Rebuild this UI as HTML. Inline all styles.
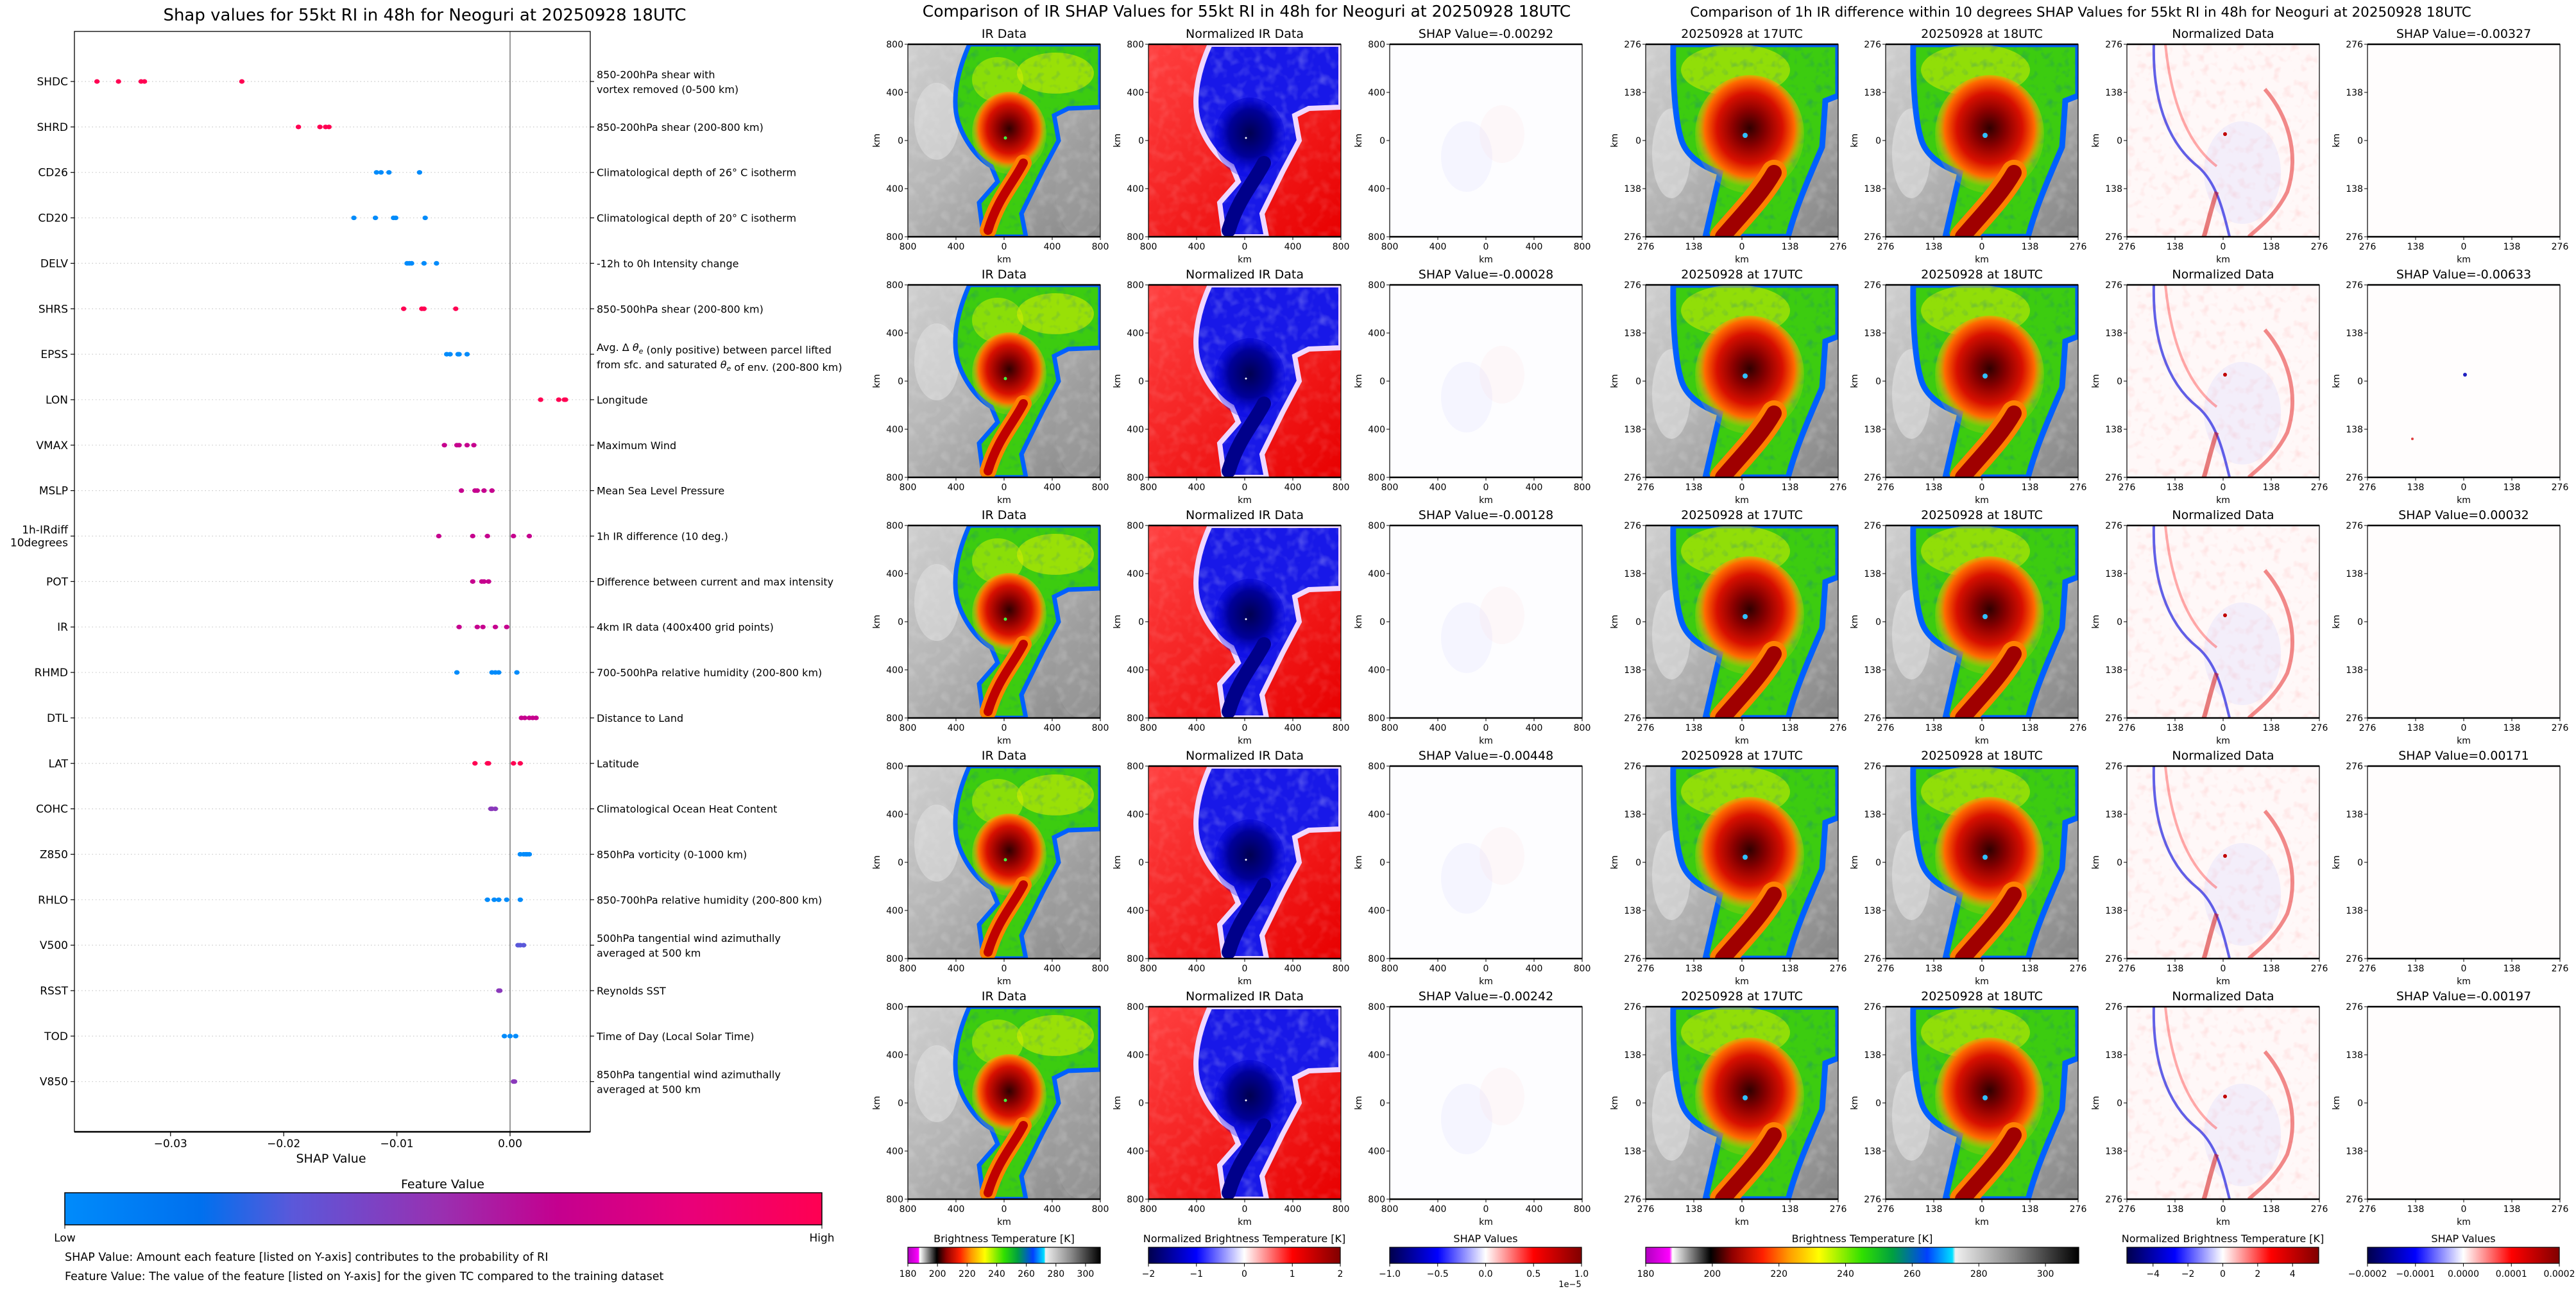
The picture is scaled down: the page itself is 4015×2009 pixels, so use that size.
<!DOCTYPE html>
<html><head><meta charset="utf-8">
<style>
html,body{margin:0;padding:0;background:#fff;}
svg{display:block;font-family:"DejaVu Sans","Liberation Sans",sans-serif;}
</style></head>
<body>
<svg id="root" xmlns="http://www.w3.org/2000/svg" width="4015" height="2009" viewBox="0 0 4015 2009">
<defs>
  <filter id="noise" x="0" y="0" width="100%" height="100%">
    <feTurbulence type="fractalNoise" baseFrequency="0.06" numOctaves="2" seed="3"/>
    <feColorMatrix type="matrix" values="0 0 0 0 1  0 0 0 0 1  0 0 0 0 1  0 0 0 1.2 -0.55"/>
  </filter>
  <filter id="noiseDark" x="0" y="0" width="100%" height="100%">
    <feTurbulence type="fractalNoise" baseFrequency="0.08" numOctaves="2" seed="7"/>
    <feColorMatrix type="matrix" values="0 0 0 0 0  0 0 0 0 0.1  0 0 0 0 0.6  0 0 0 1.4 -0.75"/>
  </filter>
  <filter id="noiseRed" x="0" y="0" width="100%" height="100%">
    <feTurbulence type="fractalNoise" baseFrequency="0.07" numOctaves="2" seed="11"/>
    <feColorMatrix type="matrix" values="0 0 0 0 1  0 0 0 0 0.2  0 0 0 0 0.2  0 0 0 1.5 -0.8"/>
  </filter>
  <linearGradient id="grayBg" x1="0" y1="0" x2="1" y2="1">
    <stop offset="0" stop-color="#cfcfcf"/><stop offset="0.45" stop-color="#b4b4b4"/><stop offset="1" stop-color="#858585"/>
  </linearGradient>
  <radialGradient id="coreIR" cx="0.5" cy="0.45" r="0.5">
    <stop offset="0" stop-color="#300000"/><stop offset="0.3" stop-color="#8a0000"/><stop offset="0.6" stop-color="#d81000"/>
    <stop offset="0.82" stop-color="#ff6a00"/><stop offset="1" stop-color="#ffd000" stop-opacity="0.2"/>
  </radialGradient>
  <linearGradient id="redBg" x1="0" y1="0" x2="1" y2="1">
    <stop offset="0" stop-color="#ff4040"/><stop offset="1" stop-color="#e80000"/>
  </linearGradient>
  <radialGradient id="coreNorm" cx="0.5" cy="0.45" r="0.5">
    <stop offset="0" stop-color="#000050"/><stop offset="0.6" stop-color="#00009a"/><stop offset="1" stop-color="#0000e0" stop-opacity="0.3"/>
  </radialGradient>
  <linearGradient id="cmShap" x1="0" x2="1">
    <stop offset="0" stop-color="#008bfb"/><stop offset="0.18" stop-color="#0070ee"/><stop offset="0.3" stop-color="#5a58da"/>
    <stop offset="0.5" stop-color="#9a2fb0"/><stop offset="0.65" stop-color="#c4008f"/><stop offset="0.82" stop-color="#e8007a"/><stop offset="1" stop-color="#ff0052"/>
  </linearGradient>
  <linearGradient id="cmIR" x1="0" x2="1">
    <stop offset="0" stop-color="#b000c0"/><stop offset="0.055" stop-color="#ff00ff"/><stop offset="0.062" stop-color="#ffffff"/>
    <stop offset="0.15" stop-color="#000000"/><stop offset="0.2" stop-color="#900000"/><stop offset="0.27" stop-color="#ff2000"/>
    <stop offset="0.33" stop-color="#ff9a00"/><stop offset="0.4" stop-color="#ffff00"/><stop offset="0.5" stop-color="#30e000"/>
    <stop offset="0.57" stop-color="#00a040"/><stop offset="0.65" stop-color="#0040ff"/><stop offset="0.708" stop-color="#00e0ff"/>
    <stop offset="0.715" stop-color="#f0f0f0"/><stop offset="0.85" stop-color="#888888"/><stop offset="1" stop-color="#000000"/>
  </linearGradient>
  <linearGradient id="cmSeis" x1="0" x2="1">
    <stop offset="0" stop-color="#00004c"/><stop offset="0.25" stop-color="#0000ff"/><stop offset="0.5" stop-color="#ffffff"/>
    <stop offset="0.75" stop-color="#ff0000"/><stop offset="1" stop-color="#800000"/>
  </linearGradient>
  <clipPath id="pclip"><rect x="0" y="0" width="300" height="300"/></clipPath>
  <clipPath id="cloud800"><path d="M96,0 C78,40 68,85 78,120 C88,150 108,178 130,190 L140,214 L111,247 L118,300 L184,300 L177,264 L210,197 L235,150 L228,111 L250,100 L300,98 L300,0 Z"/></clipPath>
  <clipPath id="cloud276"><path d="M43,0 C42,60 46,120 56,150 C66,180 100,195 116,200 L93,300 L222,300 C235,250 258,200 275,160 L280,88 L300,80 L300,0 Z"/></clipPath>

  <g id="ir800">
    <rect width="300" height="300" fill="url(#grayBg)"/>
    <ellipse cx="45" cy="120" rx="35" ry="60" fill="#e4e4e4" opacity="0.5"/>
    <ellipse cx="270" cy="230" rx="40" ry="70" fill="#a0a0a0" opacity="0.5"/>
    <rect width="300" height="300" filter="url(#noise)" opacity="0.35"/>
    <path d="M96,0 C78,40 68,85 78,120 C88,150 108,178 130,190 L140,214 L111,247 L118,300 L184,300 L177,264 L210,197 L235,150 L228,111 L250,100 L300,98 L300,0 Z" fill="#3ccc10" stroke="#0060ff" stroke-width="7"/>
    <g clip-path="url(#cloud800)">
      <ellipse cx="230" cy="45" rx="60" ry="32" fill="#e6f000" opacity="0.55"/>
      <ellipse cx="140" cy="55" rx="40" ry="35" fill="#d8f000" opacity="0.5"/>
      <rect width="300" height="300" filter="url(#noiseDark)" opacity="0.5"/>
    </g>
    <ellipse cx="158" cy="138" rx="58" ry="64" fill="url(#coreIR)"/>
    <path d="M180,185 C165,215 140,240 125,290" fill="none" stroke="#ff8000" stroke-width="26" stroke-linecap="round"/>
    <path d="M180,185 C165,215 140,240 125,290" fill="none" stroke="#c00000" stroke-width="14" stroke-linecap="round"/>
    <circle cx="152" cy="146" r="2.5" fill="#40ff40"/>
  </g>
  <g id="norm800">
    <rect width="300" height="300" fill="url(#redBg)"/>
    <rect width="300" height="300" filter="url(#noise)" opacity="0.25"/>
    <path d="M96,0 C78,40 68,85 78,120 C88,150 108,178 130,190 L140,214 L111,247 L118,300 L184,300 L177,264 L210,197 L235,150 L228,111 L250,100 L300,98 L300,0 Z" fill="#1818e8" stroke="#f0d8ff" stroke-width="8"/>
    <g clip-path="url(#cloud800)">
      <rect width="300" height="300" filter="url(#noise)" opacity="0.45"/>
    </g>
    <ellipse cx="158" cy="145" rx="55" ry="62" fill="url(#coreNorm)"/>
    <path d="M180,185 C165,215 140,240 125,290" fill="none" stroke="#00008a" stroke-width="22" stroke-linecap="round"/>
    <circle cx="152" cy="146" r="1.5" fill="#ffffff"/>
  </g>
  <g id="shap800">
    <rect width="300" height="300" fill="#fdfdff"/>
    <ellipse cx="120" cy="175" rx="40" ry="55" fill="#c8c8ff" opacity="0.15"/>
    <ellipse cx="175" cy="140" rx="35" ry="45" fill="#ffd0d0" opacity="0.12"/>
  </g>
  <g id="ir276">
    <rect width="300" height="300" fill="url(#grayBg)"/>
    <ellipse cx="40" cy="170" rx="30" ry="70" fill="#e8e8e8" opacity="0.5"/>
    <rect width="300" height="300" filter="url(#noise)" opacity="0.35"/>
    <path d="M43,0 C42,60 46,120 56,150 C66,180 100,195 116,200 L93,300 L222,300 C235,250 258,200 275,160 L280,88 L300,80 L300,0 Z" fill="#3ccc10" stroke="#0060ff" stroke-width="9"/>
    <g clip-path="url(#cloud276)">
      <ellipse cx="140" cy="40" rx="85" ry="40" fill="#e6f000" opacity="0.5"/>
      <rect width="300" height="300" filter="url(#noiseDark)" opacity="0.5"/>
    </g>
    <ellipse cx="162" cy="140" rx="85" ry="92" fill="url(#coreIR)"/>
    <path d="M200,200 C180,235 150,265 120,300" fill="none" stroke="#ff8000" stroke-width="40" stroke-linecap="round"/>
    <path d="M200,200 C180,235 150,265 120,300" fill="none" stroke="#a00000" stroke-width="24" stroke-linecap="round"/>
    <circle cx="155" cy="142" r="4" fill="#30c0ff"/>
  </g>
  <g id="normdiff">
    <rect width="300" height="300" fill="#fff8f8"/>
    <rect width="300" height="300" filter="url(#noiseRed)" opacity="0.35"/>
    <ellipse cx="180" cy="200" rx="60" ry="80" fill="#d0d0ff" opacity="0.25"/>
    <path d="M42,0 C40,80 60,150 110,190 C140,215 150,260 160,300" fill="none" stroke="#2020e0" stroke-width="4" opacity="0.7"/>
    <path d="M60,0 C70,100 100,160 140,190" fill="none" stroke="#ff3030" stroke-width="4" opacity="0.4"/>
    <path d="M215,70 C250,110 270,170 250,230 C230,270 200,290 190,300" fill="none" stroke="#e00000" stroke-width="6" opacity="0.45"/>
    <path d="M140,230 C130,260 125,285 120,300" fill="none" stroke="#d00000" stroke-width="7" opacity="0.5"/>
    <circle cx="153" cy="140" r="3" fill="#c00000"/>
  </g>
  <g id="shap276">
    <rect width="300" height="300" fill="#fffdfd"/>
  </g>
</defs>
<g id="content"></g>
</svg>
<script>
// ---------------- SHAP summary data ----------------
const features = ["SHDC","SHRD","CD26","CD20","DELV","SHRS","EPSS","LON","VMAX","MSLP","1h-IRdiff\n10degrees","POT","IR","RHMD","DTL","LAT","COHC","Z850","RHLO","V500","RSST","TOD","V850"];
const descriptions = [
 "850-200hPa shear with\nvortex removed (0-500 km)",
 "850-200hPa shear (200-800 km)",
 "Climatological depth of 26° C isotherm",
 "Climatological depth of 20° C isotherm",
 "-12h to 0h Intensity change",
 "850-500hPa shear (200-800 km)",
 "Avg. Δ θe (only positive) between parcel lifted\nfrom sfc. and saturated θe of env. (200-800 km)",
 "Longitude","Maximum Wind","Mean Sea Level Pressure","1h IR difference (10 deg.)",
 "Difference between current and max intensity","4km IR data (400x400 grid points)",
 "700-500hPa relative humidity (200-800 km)","Distance to Land","Latitude",
 "Climatological Ocean Heat Content","850hPa vorticity (0-1000 km)",
 "850-700hPa relative humidity (200-800 km)",
 "500hPa tangential wind azimuthally\naveraged at 500 km","Reynolds SST","Time of Day (Local Solar Time)",
 "850hPa tangential wind azimuthally\naveraged at 500 km"];
const shapValues = [
 [-0.0365,-0.0346,-0.0326,-0.0323,-0.0237],
 [-0.0187,-0.0168,-0.0163,-0.0160],
 [-0.0118,-0.0114,-0.0107,-0.0080],
 [-0.0138,-0.0119,-0.0103,-0.0101,-0.0075],
 [-0.0091,-0.0089,-0.0087,-0.0076,-0.0065],
 [-0.0094,-0.0078,-0.0076,-0.0048],
 [-0.0056,-0.0053,-0.0046,-0.0045,-0.0038],
 [0.0027,0.0043,0.0048,0.0049],
 [-0.0058,-0.0047,-0.0045,-0.0038,-0.0032],
 [-0.0043,-0.0031,-0.0029,-0.0023,-0.0016],
 [-0.0063,-0.0033,-0.0020,0.0003,0.0017],
 [-0.0033,-0.0025,-0.0023,-0.0019],
 [-0.0045,-0.0029,-0.0024,-0.0013,-0.0003],
 [-0.0047,-0.0016,-0.0013,-0.0010,0.0006],
 [0.0010,0.0013,0.0017,0.0020,0.0023],
 [-0.0031,-0.0020,-0.0019,0.0003,0.0009],
 [-0.0017,-0.0016,-0.0013],
 [0.0009,0.0012,0.0014,0.0015,0.0017],
 [-0.0020,-0.0014,-0.0010,-0.0003,0.0009],
 [0.0007,0.0009,0.0012],
 [-0.0010,-0.0009],
 [-0.0005,0.0000,0.0005],
 [0.0003,0.0004]];
const featureLevels = [1,1,0,0,0,1,0,1,0.66,0.66,0.66,0.66,0.66,0,0.66,1,0.45,0,0,0.3,0.45,0,0.45];
const xTickValues = [-0.03,-0.02,-0.01,0.00];
const xTickLabels = ["\u22120.03","\u22120.02","\u22120.01","0.00"];

// ---------------- image panel data ----------------
const irShapValues = ["-0.00292","-0.00028","-0.00128","-0.00448","-0.00242"];
const diffShapValues = ["-0.00327","-0.00633","0.00032","0.00171","-0.00197"];
const ticks800 = ["800","400","0","400","800"];
const ticks276 = ["276","138","0","138","276"];
const cbIRTicks = [180,200,220,240,260,280,300];
const cbNormTicks = [-2,-1,0,1,2];
const cbShapTicks = [-1.0,-0.5,0.0,0.5,1.0];
const cbDiffNormTicks = [-4,-2,0,2,4];
const cbDiffShapTicks = [-0.0002,-0.0001,0.0000,0.0001,0.0002];

const NS = "http://www.w3.org/2000/svg";
const root = document.getElementById("content");
function mk(tag, attrs, parent){
  const e = document.createElementNS(NS, tag);
  for (const k in attrs) e.setAttribute(k, attrs[k]);
  (parent||root).appendChild(e);
  return e;
}
function txt(str, attrs, parent){
  const e = mk("text", attrs, parent);
  e.textContent = str;
  return e;
}
function lerpHex(a,b,t){
  const pa=[1,3,5].map(i=>parseInt(a.substr(i,2),16)), pb=[1,3,5].map(i=>parseInt(b.substr(i,2),16));
  return "rgb("+pa.map((v,i)=>Math.round(v+(pb[i]-v)*t)).join(",")+")";
}
const cmapStops=[[0,"#008bfb"],[0.18,"#0070ee"],[0.3,"#5a58da"],[0.5,"#9a2fb0"],[0.65,"#c4008f"],[0.82,"#e8007a"],[1,"#ff0052"]];
function cmap(v){
  for(let i=1;i<cmapStops.length;i++){
    if(v<=cmapStops[i][0]){const a=cmapStops[i-1],b=cmapStops[i];return lerpHex(a[1],b[1],(v-a[0])/(b[0]-a[0]));}
  }
  return cmapStops[cmapStops.length-1][1];
}

// ---------------- Left SHAP summary plot ----------------
const AX = {l:116, r:920, t:49, b:1764};
const X0 = 795, XPER = 17640;
function xScale(v){ return X0 + v*XPER; }
const ROW0 = 127, ROWSTEP = 70.85;
function yScale(i){ return ROW0 + i*ROWSTEP; }

const shapG = mk("g", {});



const t1 = txt("Shap values for 55kt RI in 48h for Neoguri at 20250928 18UTC", {x:662, y:32, "text-anchor":"middle", "font-size":26}, shapG);



features.forEach((f,i)=>{
  const y = yScale(i);
  const gl = mk("line",{x1:AX.l,x2:AX.r,y1:y,y2:y,stroke:"#c8c8c8","stroke-width":1.2,"stroke-dasharray":"1.5,4"}, shapG);
  
  
  mk("line",{x1:AX.l-6,x2:AX.l,y1:y,y2:y,stroke:"#000","stroke-width":1.2}, shapG);
  mk("line",{x1:AX.r,x2:AX.r+6,y1:y,y2:y,stroke:"#000","stroke-width":1.2}, shapG);
  const lines = f.split("\n");
  const lab = txt("", {x:AX.l-10, y:y+6-(lines.length-1)*10, "text-anchor":"end","font-size":17}, shapG);
  lines.forEach((ln,k)=>{ const ts=mk("tspan",{x:AX.l-10, dy:k?20:0},lab); ts.textContent=ln; });
  
  
  const dl = descriptions[i].split("\n");
  const d = txt("", {x:AX.r+10, y:y+6-(dl.length-1)*11, "font-size":16}, shapG);
  dl.forEach((ln,k)=>{
    const ts=mk("tspan",{x:AX.r+10, dy:k?23:0},d);
    const parts = ln.split("θe");
    parts.forEach((p,pi)=>{
      const a=mk("tspan",{},ts); a.textContent=p;
      if(pi<parts.length-1){ const th=mk("tspan",{"font-style":"italic"},ts); th.textContent="θ"; const sb=mk("tspan",{"font-size":11,dy:4,"font-style":"italic"},ts); sb.textContent="e"; const rs=mk("tspan",{dy:-4},ts); rs.textContent=""; }
    });
  });
  
  
});

const zl = mk("line",{x1:X0,x2:X0,y1:AX.t,y2:AX.b,stroke:"#999","stroke-width":2}, shapG);



shapValues.forEach((vals,i)=>{
  vals.forEach(v=>{
    const c = mk("ellipse",{cx:xScale(v), cy:yScale(i), rx:4.2, ry:3.6, fill:cmap(featureLevels[i])}, shapG);
    
    
  });
});

const frame = mk("rect",{x:AX.l,y:AX.t,width:AX.r-AX.l,height:AX.b-AX.t,fill:"none",stroke:"#000","stroke-width":1.3}, shapG);


mk("line",{x1:AX.l,x2:AX.r,y1:AX.b,y2:AX.b,stroke:"#000","stroke-width":2.5}, shapG);

xTickValues.forEach((v,k)=>{
  const x = xScale(v);
  mk("line",{x1:x,x2:x,y1:AX.b,y2:AX.b+7,stroke:"#000","stroke-width":1.2}, shapG);
  const tl = txt(xTickLabels[k], {x:x, y:1788, "text-anchor":"middle","font-size":17}, shapG);
  
  
});
const xl = txt("SHAP Value", {x:516, y:1812, "text-anchor":"middle","font-size":19}, shapG);



const fvt = txt("Feature Value", {x:690, y:1852, "text-anchor":"middle","font-size":19}, shapG);


const fcb = mk("rect",{x:101,y:1859,width:1180,height:50,fill:"url(#cmShap)",stroke:"#000","stroke-width":1.5}, shapG);


mk("line",{x1:101,x2:101,y1:1909,y2:1915,stroke:"#000"}, shapG);
mk("line",{x1:1281,x2:1281,y1:1909,y2:1915,stroke:"#000"}, shapG);
const lo = txt("Low",{x:101,y:1935,"text-anchor":"middle","font-size":17}, shapG);


const hi = txt("High",{x:1281,y:1935,"text-anchor":"middle","font-size":17}, shapG);


const n1 = txt("SHAP Value: Amount each feature [listed on Y-axis] contributes to the probability of RI",{x:101,y:1965,"font-size":17.5}, shapG);


const n2 = txt("Feature Value: The value of the feature [listed on Y-axis] for the given TC compared to the training dataset",{x:101,y:1995,"font-size":17.5}, shapG);



// ---------------- Image panels ----------------
const colX = [1415,1790,2166,2565,2939,3315,3690];
const rowY = [69,444,819,1194,1569];
const PW = 300, PH = 300;
const colImg = ["ir800","norm800","shap800","ir276","ir276","normdiff","shap276"];

const tt2 = txt("Comparison of IR SHAP Values for 55kt RI in 48h for Neoguri at 20250928 18UTC",{x:1943,y:26,"text-anchor":"middle","font-size":25});


const tt3 = txt("Comparison of 1h IR difference within 10 degrees SHAP Values for 55kt RI in 48h for Neoguri at 20250928 18UTC",{x:3243,y:26,"text-anchor":"middle","font-size":21.5});



rowY.forEach((py,r)=>{
  colX.forEach((px,c)=>{
    const g = mk("g",{transform:`translate(${px},${py})`});
    
    
    const inner = mk("g",{"clip-path":"url(#pclip)"}, g);
    mk("use",{href:"#"+colImg[c]}, inner);
    if(c===6 && r===1){ mk("circle",{cx:152,cy:140,r:3,fill:"#2020c0"},inner); mk("circle",{cx:70,cy:240,r:2,fill:"#e04040"},inner); }
    mk("rect",{x:0,y:0,width:PW,height:PH,fill:"none",stroke:"#000","stroke-width":1.2}, g);
    mk("line",{x1:0,x2:PW,y1:0,y2:0,stroke:"#000","stroke-width":2.5}, g);
    mk("line",{x1:0,x2:PW,y1:PH,y2:PH,stroke:"#000","stroke-width":2.5}, g);
    let title;
    if(c===0) title="IR Data"; else if(c===1) title="Normalized IR Data";
    else if(c===2) title="SHAP Value="+irShapValues[r];
    else if(c===3) title="20250928 at 17UTC"; else if(c===4) title="20250928 at 18UTC";
    else if(c===5) title="Normalized Data"; else title="SHAP Value="+diffShapValues[r];
    const st = txt(title,{x:PW/2,y:-10,"text-anchor":"middle","font-size":19}, g);
    
    
    const tk = c<3 ? ticks800 : ticks276;
    tk.forEach((lab,k)=>{
      const p = k*PW/4;
      mk("line",{x1:-5,x2:0,y1:p,y2:p,stroke:"#000"}, g);
      txt(lab,{x:-7,y:p+5,"text-anchor":"end","font-size":14}, g);
      mk("line",{x1:p,x2:p,y1:PH,y2:PH+5,stroke:"#000"}, g);
      txt(lab,{x:p,y:PH+20,"text-anchor":"middle","font-size":14}, g);
    });
    txt("km",{x:PW/2,y:PH+40,"text-anchor":"middle","font-size":14}, g);
    txt("km",{x:0,y:0,"text-anchor":"middle","font-size":14,transform:`translate(-44,${PH/2}) rotate(-90)`}, g);
  });
});

// ---------------- Colorbars ----------------
function colorbar(x0,x1,grad,label,ticks,vmin,vmax,fmt){
  const g = mk("g",{});
  
  
  txt(label,{x:(x0+x1)/2,y:1936,"text-anchor":"middle","font-size":16}, g);
  mk("rect",{x:x0,y:1944,width:x1-x0,height:25,fill:"url(#"+grad+")",stroke:"#000","stroke-width":1.2}, g);
  ticks.forEach(v=>{
    const x = x0 + (v-vmin)/(vmax-vmin)*(x1-x0);
    mk("line",{x1:x,x2:x,y1:1969,y2:1974,stroke:"#000"}, g);
    txt(fmt(v),{x:x,y:1990,"text-anchor":"middle","font-size":14}, g);
  });
  return g;
}
const neg = s => String(s).replace("-","\u2212");
colorbar(1415,1715,"cmIR","Brightness Temperature [K]",cbIRTicks,180,310,v=>String(v));
colorbar(1790,2089,"cmSeis","Normalized Brightness Temperature [K]",cbNormTicks,-2,2,v=>neg(v));
colorbar(2166,2465,"cmSeis","SHAP Values",cbShapTicks,-1,1,v=>neg(v.toFixed(1)));
const e5 = txt("1e\u22125",{x:2447,y:2006,"text-anchor":"middle","font-size":13});


colorbar(2565,3240,"cmIR","Brightness Temperature [K]",cbIRTicks,180,310,v=>String(v));
colorbar(3315,3614,"cmSeis","Normalized Brightness Temperature [K]",cbDiffNormTicks,-5.5,5.5,v=>neg(v));
colorbar(3690,3989,"cmSeis","SHAP Values",cbDiffShapTicks,-0.0002,0.0002,v=>neg(v.toFixed(4)));
</script>
</body></html>
